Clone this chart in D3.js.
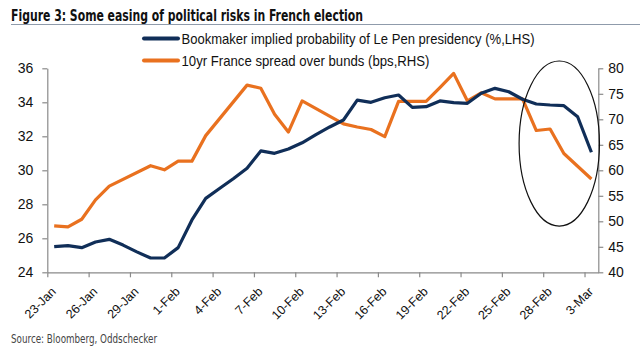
<!DOCTYPE html>
<html><head><meta charset="utf-8">
<script src="https://cdn.jsdelivr.net/npm/d3@7"></script>
<style>html,body{margin:0;padding:0;background:#fff;}svg{display:block;}</style>
</head><body>
<svg id="c" width="640" height="356"></svg>
<script>
// ---- data ----
const startDate = "2017-01-23";
// daily observations 23-Jan .. 3-Mar (bookmaker odds, %)
const probability = [25.51,25.57,25.45,25.78,25.94,25.6,25.2,24.84,24.84,25.45,
  27.08,28.35,28.93,29.5,30.12,31.14,31.0,31.25,31.62,32.1,
  32.55,32.96,34.13,34.0,34.27,34.43,33.7,33.74,34.08,33.98,
  33.94,34.53,34.82,34.62,34.18,33.9,33.84,33.8,33.15,31.06];
// 10yr spread (bps), null where no observation
const spread = [49.1,48.9,50.4,54.2,56.9,null,null,60.9,60.1,61.8,
  61.8,66.8,null,null,76.7,76.1,71.0,67.5,73.6,null,
  null,69.1,68.5,68.0,66.6,73.5,73.5,73.5,76.2,79.0,
  73.6,75.2,74.0,74.0,74.0,67.8,68.1,63.3,60.8,58.3];
const leftTicks = [24,26,28,30,32,34,36];
const rightTicks = [40,45,50,55,60,65,70,75,80];
const xTickDates = ["2017-01-23","2017-01-26","2017-01-29","2017-02-01","2017-02-04","2017-02-07",
  "2017-02-10","2017-02-13","2017-02-16","2017-02-19","2017-02-22","2017-02-25","2017-02-28","2017-03-03"];
const seriesNames = ["Bookmaker implied probability of Le Pen presidency (%,LHS)",
  "10yr  France spread over bunds (bps,RHS)"];
const titleText = "Figure 3: Some easing of political risks in French election";
const sourceText = "Source: Bloomberg, Oddschecker";
// highlight ellipse bounds (dates, left-axis values)
const ellipseDates = ["2017-02-26T06:00", "2017-03-04T02:00"];
const ellipseValues = [26.72, 36.43];

// ---- drawing ----
const parse = d3.utcParse("%Y-%m-%d");
const parseT = d3.utcParse("%Y-%m-%dT%H:%M");
const t0 = parse(startDate);
const day = i => d3.utcHour.offset(d3.utcDay.offset(t0, i), 12);
const navy = "#102e58", orange = "#e9711f", axisCol = "#8a8a8a";

const svg = d3.select("#c");
const x = d3.scaleUtc().domain([t0, parse("2017-03-04")]).range([47.3, 598.3]);
const yL = d3.scaleLinear().domain([24,36]).range([272.3, 68.3]);
const yR = d3.scaleLinear().domain([40,80]).range([272.3, 68.3]);

// title
svg.append("text").attr("x", 11).attr("y", 20.5)
  .attr("font-family", "'Liberation Sans Narrow','DejaVu Sans Condensed',sans-serif")
  .attr("font-weight", "bold").attr("font-size", 15.5).attr("fill", "#111")
  .attr("textLength", 352).attr("lengthAdjust", "spacingAndGlyphs").text(titleText);
svg.append("line").attr("x1", 11).attr("x2", 640).attr("y1", 24.5).attr("y2", 24.5)
  .attr("stroke", "#8f9bab").attr("stroke-width", 1);

// legend
const leg = svg.append("g");
[[navy, 0],[orange, 1]].forEach(([c, i]) => {
  const yy = 38.5 + i * 22;
  leg.append("line").attr("x1", 144).attr("x2", 178).attr("y1", yy).attr("y2", yy)
    .attr("stroke", c).attr("stroke-width", 4).attr("stroke-linecap", "round");
  leg.append("text").attr("x", 181.5).attr("y", yy + 5.3)
    .attr("font-family", "'Liberation Sans Narrow','Liberation Sans',sans-serif")
    .attr("font-size", 15).attr("fill", "#111")
    .attr("textLength", i === 0 ? 353 : 248).attr("lengthAdjust", "spacingAndGlyphs")
    .text(seriesNames[i]);
});

// axes
const fontAx = "'Liberation Sans',Arial,sans-serif";
const gL = svg.append("g").attr("transform", "translate(47.3,0)")
  .call(d3.axisLeft(yL).tickValues(leftTicks).tickSize(5).tickPadding(9).tickSizeOuter(0));
const gR = svg.append("g").attr("transform", "translate(598.3,0)")
  .call(d3.axisRight(yR).tickValues(rightTicks).tickSize(5).tickPadding(5).tickSizeOuter(0));
const gX = svg.append("g").attr("transform", "translate(0,272.3)")
  .call(d3.axisBottom(x).tickValues(xTickDates.map(parse)).tickSize(5).tickSizeOuter(0)
    .tickFormat(d3.utcFormat("%-d-%b")));
[gL, gR, gX].forEach(g => {
  g.selectAll("path,line").attr("stroke", axisCol).attr("stroke-width", 1.2);
  g.selectAll("text").attr("font-family", fontAx).attr("fill", "#111");
});
gL.selectAll("text").attr("font-size", 14);
gR.selectAll("text").attr("font-size", 14);
gX.selectAll("text").attr("font-size", 12.5)
  .attr("text-anchor", "end").attr("dy", null)
  .attr("transform", "translate(9,20) rotate(-45)").attr("y", 0).attr("x", 0);

// lines
const probData = probability.map((v, i) => ({d: day(i), v}));
const spreadData = spread.map((v, i) => ({d: day(i), v})).filter(p => p.v !== null);
svg.append("path").datum(spreadData)
  .attr("d", d3.line().x(p => x(p.d)).y(p => yR(p.v)))
  .attr("fill", "none").attr("stroke", orange).attr("stroke-width", 3.2).attr("stroke-linejoin", "round");
svg.append("path").datum(probData)
  .attr("d", d3.line().x(p => x(p.d)).y(p => yL(p.v)))
  .attr("fill", "none").attr("stroke", navy).attr("stroke-width", 3.2).attr("stroke-linejoin", "round");

// highlight ellipse
const ex0 = x(parseT(ellipseDates[0])), ex1 = x(parseT(ellipseDates[1]));
const ey0 = yL(ellipseValues[1]), ey1 = yL(ellipseValues[0]);
svg.append("ellipse").attr("cx", (ex0 + ex1) / 2).attr("cy", (ey0 + ey1) / 2)
  .attr("rx", (ex1 - ex0) / 2).attr("ry", (ey1 - ey0) / 2)
  .attr("fill", "none").attr("stroke", "#111").attr("stroke-width", 1.2);

// source
svg.append("text").attr("x", 11).attr("y", 343)
  .attr("font-family", "'Liberation Sans Narrow','DejaVu Sans Condensed',sans-serif")
  .attr("font-size", 11.5).attr("fill", "#444")
  .attr("textLength", 146).attr("lengthAdjust", "spacingAndGlyphs").text(sourceText);
</script>
</body></html>
